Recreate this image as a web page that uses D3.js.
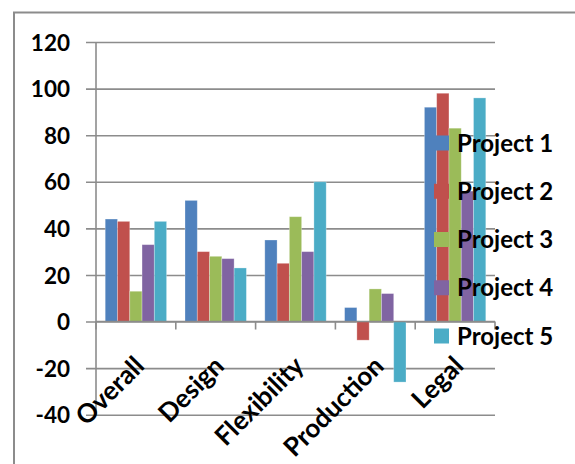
<!DOCTYPE html>
<html>
<head>
<meta charset="utf-8">
<script src="https://cdn.jsdelivr.net/npm/d3@7"></script>
<style>
  body { margin: 0; background: #fff; }
  text { font-family: Lato, "Open Sans", sans-serif; font-weight: bold; fill: #000; }
</style>
</head>
<body>
<div id="chart"></div>
<script>
// chart data
const categories = ["Overall", "Design", "Flexibility", "Production", "Legal"];
const seriesNames = ["Project 1", "Project 2", "Project 3", "Project 4", "Project 5"];
const project1 = [44, 52, 35, 6, 92];
const project2 = [43, 30, 25, -8, 98];
const project3 = [13, 28, 45, 14, 83];
const project4 = [33, 27, 30, 12, 56];
const project5 = [43, 23, 60, -26, 96];
const yTicks = [-40, -20, 0, 20, 40, 60, 80, 100, 120];
const colors = ["#4F81BD", "#C0504D", "#9BBB59", "#8064A2", "#4BACC6"];

const seriesValues = [project1, project2, project3, project4, project5];
const width = 575, height = 464;

const svg = d3.select("#chart").append("svg")
    .attr("width", width)
    .attr("height", height);

// outer frame (runs off right and bottom edge)
svg.append("path")
    .attr("d", "M14," + height + "V12.5H" + width)
    .attr("fill", "none")
    .attr("stroke", "#8c8c8c")
    .attr("stroke-width", 2);

const plot = {left: 96, right: 495, top: 42, bottom: 414.7};

const xScale = d3.scaleBand()
    .domain(categories)
    .range([plot.left, plot.right]);

const xInner = d3.scaleBand()
    .domain(seriesNames)
    .range([0, xScale.bandwidth()])
    .paddingInner(0)
    .paddingOuter(0.75);

const yScale = d3.scaleLinear()
    .domain([-40, 120])
    .range([plot.bottom, plot.top]);

// gridlines + y axis labels
const yAxis = d3.axisLeft(yScale)
    .tickValues(yTicks)
    .tickFormat(d => String(d))
    .tickSize(-(plot.right - plot.left))
    .tickSizeOuter(0)
    .tickPadding(26);

const yAxisG = svg.append("g")
    .attr("transform", "translate(" + plot.left + ",0)")
    .call(yAxis);
yAxisG.select(".domain").remove();
yAxisG.selectAll(".tick line")
    .attr("x1", -10)
    .attr("stroke", "#8c8c8c")
    .attr("stroke-width", 1.6);
yAxisG.selectAll(".tick text")
    .style("font-size", "22.5px")
    .attr("dy", "0.36em");

// vertical axis line
svg.append("line")
    .attr("x1", plot.left).attr("x2", plot.left)
    .attr("y1", plot.top).attr("y2", plot.bottom)
    .attr("stroke", "#8c8c8c")
    .attr("stroke-width", 1.6);

// bars
const rows = categories.map((c, i) => ({
    category: c,
    values: seriesNames.map((s, j) => ({series: s, idx: j, value: seriesValues[j][i]}))
}));

const groups = svg.selectAll(".catG")
    .data(rows)
    .join("g")
    .attr("class", "catG")
    .attr("transform", d => "translate(" + xScale(d.category) + ",0)");

groups.selectAll("rect")
    .data(d => d.values)
    .join("rect")
    .attr("x", d => xInner(d.series))
    .attr("width", xInner.bandwidth())
    .attr("y", d => yScale(Math.max(0, d.value)))
    .attr("height", d => Math.abs(yScale(d.value) - yScale(0)))
    .attr("fill", d => colors[d.idx])
    .attr("stroke", "#ffffff")
    .attr("stroke-opacity", 0.35)
    .attr("stroke-width", 0.8);

// x axis at zero
const xAxis = d3.axisBottom(xScale)
    .tickSize(0)
    .tickFormat("");
const xAxisG = svg.append("g")
    .attr("transform", "translate(0," + yScale(0) + ")")
    .call(xAxis);
xAxisG.select(".domain")
    .attr("d", "M" + plot.left + ",0H" + plot.right)
    .attr("stroke", "#8c8c8c")
    .attr("stroke-width", 1.6);

// category tick marks on boundaries
const boundaries = categories.map(c => xScale(c)).concat([plot.right]);
xAxisG.selectAll(".bound")
    .data(boundaries)
    .join("line")
    .attr("class", "bound")
    .attr("x1", d => d).attr("x2", d => d)
    .attr("y1", 0).attr("y2", 8)
    .attr("stroke", "#8c8c8c")
    .attr("stroke-width", 1.6);

// rotated category labels
svg.selectAll(".catLabel")
    .data(categories)
    .join("text")
    .attr("class", "catLabel")
    .attr("text-anchor", "end")
    .style("font-size", "26px")
    .attr("transform", d => "translate(" + (xScale(d) + xScale.bandwidth() / 2 + 10) + "," + (yScale(0) + 46) + ") rotate(-45)")
    .text(d => d);

// legend, drawn over the bars
const legendY = d3.scalePoint()
    .domain(seriesNames)
    .range([143, 336]);

const legend = svg.selectAll(".legendG")
    .data(seriesNames)
    .join("g")
    .attr("class", "legendG")
    .attr("transform", d => "translate(434," + legendY(d) + ")");

legend.append("rect")
    .attr("x", 0).attr("y", -7.5)
    .attr("width", 15).attr("height", 15)
    .attr("fill", (d, i) => colors[i]);

legend.append("text")
    .attr("x", 23)
    .attr("dy", "0.36em")
    .style("font-size", "24px")
    .text(d => d);
</script>
</body>
</html>
